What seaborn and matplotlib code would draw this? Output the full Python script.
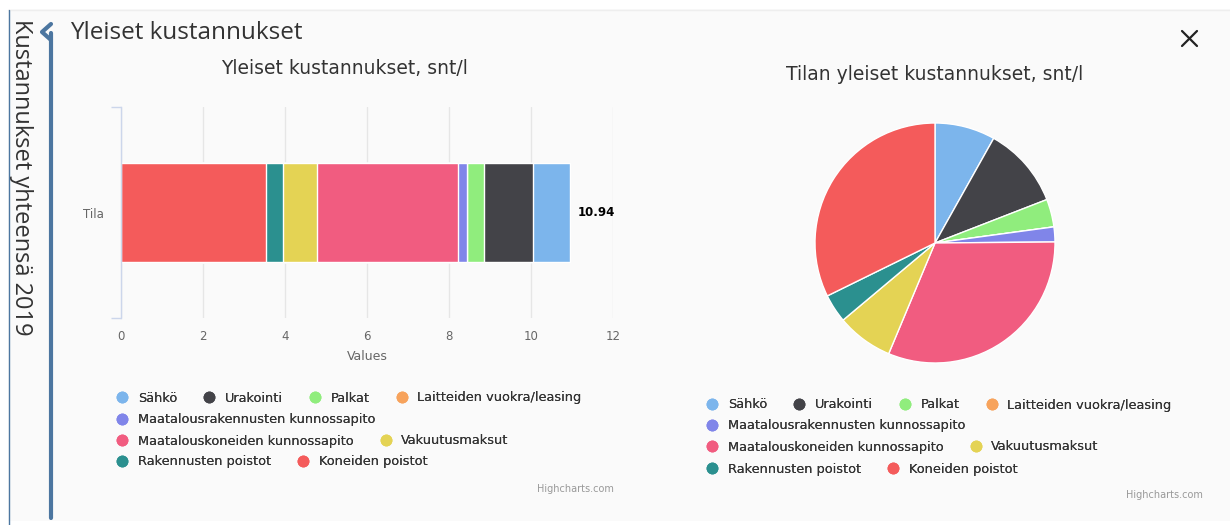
import numpy as np
import matplotlib.pyplot as plt
from matplotlib.lines import Line2D
from matplotlib.patches import Rectangle
import seaborn as sns

# data
categories = ['Sähkö', 'Urakointi', 'Palkat', 'Laitteiden vuokra/leasing',
              'Maatalousrakennusten kunnossapito', 'Maatalouskoneiden kunnossapito',
              'Vakuutusmaksut', 'Rakennusten poistot', 'Koneiden poistot']
values = [0.89, 1.20, 0.41, 0.00, 0.22, 3.44, 0.83, 0.42, 3.53]
colors = ['#7cb5ec', '#434348', '#90ed7d', '#f7a35c', '#8085e9',
          '#f15c80', '#e4d354', '#2b908f', '#f45b5b']
bar_category = ['Tila']
total_label = '10.94'
x_ticks = [0, 2, 4, 6, 8, 10, 12]
legend_rows = [[0, 1, 2, 3], [4], [5, 6], [7, 8]]

W, H = 1230, 525


def fx(px):
    return px / W


def fy(py):
    return 1 - py / H


sns.set_theme(style='white')
plt.rcParams['font.family'] = ['DejaVu Sans']

fig = plt.figure(figsize=(W / 100, H / 100), dpi=100, facecolor='white')

# panel background and frame
fig.patches.append(Rectangle((fx(8), fy(521)), fx(1222), 512 / H, transform=fig.transFigure,
                             facecolor='#fafafa', edgecolor='none', zorder=-5))
fig.lines.append(Line2D([fx(8), fx(1230)], [fy(9.5), fy(9.5)], transform=fig.transFigure,
                        color='#eeeeee', lw=1))
fig.lines.append(Line2D([fx(8.5), fx(8.5)], [fy(10), fy(525)], transform=fig.transFigure,
                        color='#4c76a0', lw=1))
fig.lines.append(Line2D([fx(51), fx(51)], [fy(33), fy(518)], transform=fig.transFigure,
                        color='#4c76a0', lw=3, solid_capstyle='round'))
fig.lines.append(Line2D([fx(51), fx(42), fx(51)], [fy(24), fy(32), fy(40)], transform=fig.transFigure,
                        color='#4c76a0', lw=3))
fig.text(fx(21), fy(19), 'Kustannukset yhteensä 2019', rotation=270, ha='center', va='top',
         fontsize=17, color='#333333', family=['Open Sans', 'DejaVu Sans'])
fig.text(fx(70), fy(33), 'Yleiset kustannukset', ha='left', va='center',
         fontsize=17.5, color='#333333', family=['Open Sans', 'DejaVu Sans'])
# close icon
fig.lines.append(Line2D([fx(1182), fx(1197)], [fy(31), fy(46)], transform=fig.transFigure,
                        color='#222222', lw=1.6))
fig.lines.append(Line2D([fx(1182), fx(1197)], [fy(46), fy(31)], transform=fig.transFigure,
                        color='#222222', lw=1.6))

# stacked bar
ax = fig.add_axes([fx(121), fy(318), 492 / W, 211 / H])
ax.set_facecolor('none')
for i, (name, c) in enumerate(zip(categories, colors)):
    end = sum(values[i:])
    sns.barplot(x=[end], y=bar_category, orient='h', color=c, saturation=1, width=0.47,
                edgecolor='white', linewidth=1, errorbar=None, ax=ax)
ax.set_xlim(0, 12)
ax.set_ylim(0.5, -0.5)
ax.set_xticks(x_ticks)
ax.set_xticklabels([str(t) for t in x_ticks])
ax.grid(axis='x', color='#e6e6e6', lw=1)
ax.set_axisbelow(True)
for s in ['top', 'right', 'bottom']:
    ax.spines[s].set_visible(False)
ax.spines['left'].set_color('#ccd6eb')
ax.spines['left'].set_linewidth(1)
ax.tick_params(axis='x', length=0, pad=9, labelsize=8.5, labelcolor='#666666')
ax.tick_params(axis='y', which='major', length=0, pad=12, labelsize=8.5, labelcolor='#666666')
ax.set_yticks([-0.5, 0.5], minor=True)
ax.tick_params(axis='y', which='minor', left=True, length=7, color='#ccd6eb', width=1)
ax.set_xlabel('Values', fontsize=9, color='#666666', labelpad=5)
ax.set_ylabel('')
ax.annotate(total_label, xy=(sum(values), 0), xytext=(6, 0), textcoords='offset points',
            ha='left', va='center', fontsize=8.5, fontweight='bold', color='#000000')
fig.text(fx(345), fy(68), 'Yleiset kustannukset, snt/l', ha='center', va='center',
         fontsize=13.5, color='#333333')
fig.text(fx(614), fy(489), 'Highcharts.com', ha='right', va='center', fontsize=7, color='#999999')

# pie
pax = fig.add_axes([fx(935 - 120), fy(243 + 120), 240 / W, 240 / H])
pax.pie(values, colors=colors, startangle=90, counterclock=False, radius=1,
        wedgeprops=dict(edgecolor='white', linewidth=1))
pax.set_xlim(-1, 1)
pax.set_ylim(-1, 1)
fig.text(fx(935), fy(75), 'Tilan yleiset kustannukset, snt/l', ha='center', va='center',
         fontsize=13.5, color='#333333')
fig.text(fx(1203), fy(495), 'Highcharts.com', ha='right', va='center', fontsize=7, color='#999999')


# legends, one per row like the wrapped highcharts legend
def add_legend(x0, row_y):
    for row, y in zip(legend_rows, row_y):
        handles = [Line2D([0], [0], marker='o', lw=0, markersize=8.5, color=colors[i],
                          markeredgecolor='none') for i in row]
        labels = [categories[i] for i in row]
        leg = fig.legend(handles, labels, loc='center left', bbox_to_anchor=(fx(x0), fy(y)),
                         ncol=len(row), frameon=False, borderpad=0, borderaxespad=0,
                         handlelength=0.8, handletextpad=0.8, columnspacing=2.1,
                         fontsize=9.3, labelcolor='#333333')
        fig.add_artist(leg)


add_legend(117, [398, 420, 441, 462])
add_legend(707, [405, 426, 447, 469])

plt.savefig('out.png', dpi=100)
plt.close()
